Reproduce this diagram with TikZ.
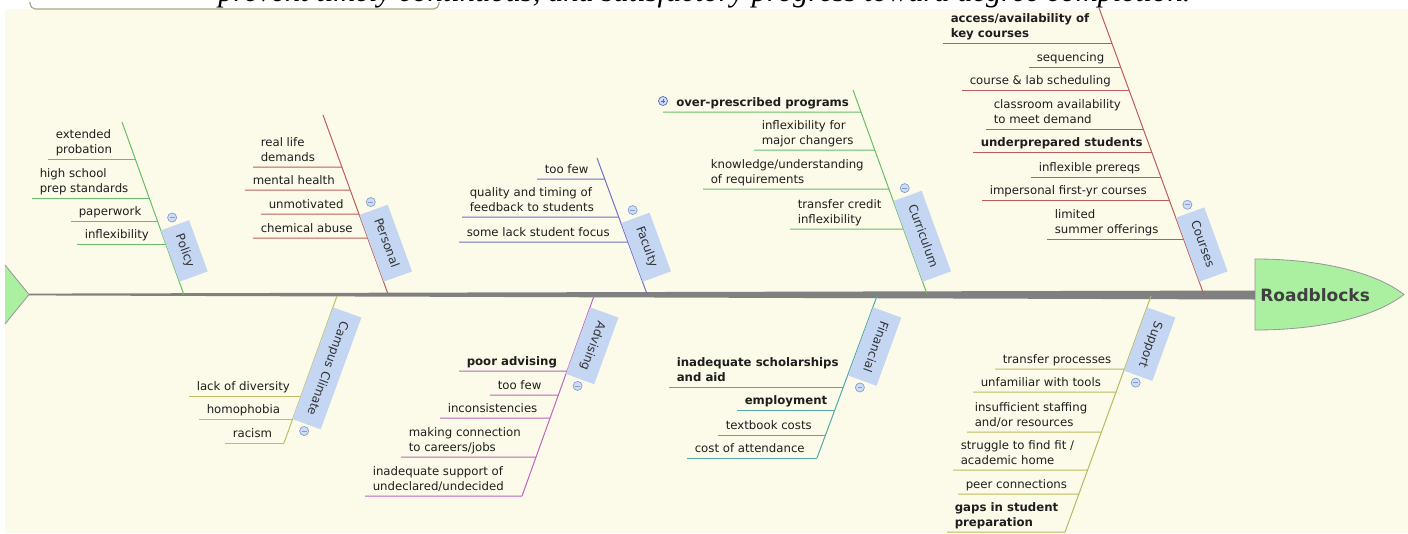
\documentclass[tikz,border=0pt]{standalone}
\usepackage{fontspec}
\setmainfont{DejaVu Sans}
\newfontfamily\titlefont{Liberation Serif}
\usetikzlibrary{calc}
\definecolor{cream}{RGB}{252,251,233}
\definecolor{txtc}{RGB}{30,30,30}
\definecolor{cattxt}{RGB}{50,50,50}
\definecolor{catblue}{RGB}{196,214,242}
\definecolor{iconfill}{RGB}{206,220,244}
\definecolor{iconedge}{RGB}{130,155,210}
\definecolor{plusedge}{RGB}{80,110,180}
\definecolor{spinec}{RGB}{128,128,128}
\definecolor{headfill}{RGB}{170,240,160}
\definecolor{headedge}{RGB}{150,150,150}
\definecolor{headtxt}{RGB}{64,64,64}
\definecolor{boxedge}{RGB}{170,166,136}
\definecolor{polc}{RGB}{102,190,102}
\definecolor{curc}{RGB}{102,190,102}
\definecolor{perc}{RGB}{190,92,92}
\definecolor{crsc}{RGB}{190,92,92}
\definecolor{facc}{RGB}{112,112,200}
\definecolor{ccc}{RGB}{190,190,100}
\definecolor{supc}{RGB}{185,185,95}
\definecolor{advc}{RGB}{190,100,190}
\definecolor{finc}{RGB}{80,170,170}
\tikzset{
  bone/.style={line width=0.75pt},
  causetxt/.style={font=\fontsize{8.8}{11.25}\selectfont, text=txtc, inner sep=0pt, align=left, anchor=south west, text depth=0pt},
  causebold/.style={causetxt, font=\fontsize{8.8}{11.25}\selectfont\bfseries},
  catbox/.style={fill=catblue, text=cattxt, font=\fontsize{9}{10}\selectfont, inner xsep=7.5pt, inner ysep=6.75pt, text height=6.75pt, text depth=2.25pt},
  cattop/.style={catbox, rotate=-70, anchor=south east},
  catbot/.style={catbox, rotate=-110, anchor=south west},
  collapse/.style={circle, draw=iconedge, fill=iconfill, line width=0.5pt, minimum size=6.8pt, inner sep=0pt,
    path picture={\draw[iconedge, line width=0.6pt] ($(path picture bounding box.center)+(-1.8pt,0)$) -- ($(path picture bounding box.center)+(1.8pt,0)$);}},
  expand/.style={circle, draw=plusedge, fill=iconfill, line width=0.5pt, minimum size=6.8pt, inner sep=0pt,
    path picture={\draw[plusedge, line width=0.6pt] ($(path picture bounding box.center)+(-1.8pt,0)$) -- ($(path picture bounding box.center)+(1.8pt,0)$);
      \draw[plusedge, line width=0.6pt] ($(path picture bounding box.center)+(0,-1.8pt)$) -- ($(path picture bounding box.center)+(0,1.8pt)$);}},
  headtext/.style={font=\fontsize{12.75}{14}\selectfont\bfseries, text=headtxt, inner sep=0pt}
}
% #1 bone prefix, #2 y of line, #3 left x of line, #4 text style, #5 node name, #6 text
\newcommand\causeline[6]{%
  \coordinate (#5L) at (#3,#2);
  \coordinate (#5R) at (intersection of #1A--#1B and 0,#2--1408,#2);
  \draw[#1c, bone] (#5L) -- (#5R);
  \node[#4] (#5) at (#3+7.5,#2-5.5) {#6};
}
\begin{document}
\begin{tikzpicture}[x=0.75pt,y=-0.75pt]
\useasboundingbox (0,0) rectangle (1408,533);
\clip (0,0) rectangle (1408,533);
\fill[white] (0,0) rectangle (1408,533);
\node[anchor=base west, inner sep=0pt] (title) at (218,1.5)
  {\resizebox{729pt}{!}{\titlefont\itshape prevent timely continuous, and satisfactory progress toward degree completion.}};
\fill[cream] (5,8.5) rectangle (1408,533);
\draw[boxedge, line width=0.9pt, rounded corners=4pt] (30,2) -- (30,9) -- (439,9) -- (439,2);

% tail
\coordinate (tailTop) at (5,265);
\coordinate (tailTip) at (29,294.5);
\coordinate (tailBot) at (5,324);
\fill[headfill] (tailTop) -- (tailTip) -- (tailBot) -- cycle;
\draw[headedge, line width=0.6pt] (tailTop) -- (tailTip) -- (tailBot);

% head
\coordinate (headL) at (1255,295);
\filldraw[fill=headfill, draw=headedge, line width=0.6pt] (1255,259) .. controls (1320,259) and (1375,272) .. (1404,294.5) .. controls (1375,317) and (1320,330) .. (1255,330) -- cycle;
\node[headtext, anchor=west] (head) at (1260,295.5) {Roadblocks};

% spine
\fill[spinec] ($(tailTip)+(0,-0.9)$) -- ($(headL)+(0,-4.5)$) -- ($(headL)+(0,4.5)$) -- ($(tailTip)+(0,0.9)$) -- cycle;

% ---------- Policy ----------
\coordinate (polA) at (122,122);
\coordinate (polB) at (184,295);
\draw[polc, bone] (polA) -- (polB);
\causeline{pol}{159}{48}{causetxt}{pol1}{extended\\probation}
\causeline{pol}{198}{32}{causetxt}{pol2}{high school\\prep standards}
\causeline{pol}{221}{71}{causetxt}{pol3}{paperwork}
\causeline{pol}{244}{77}{causetxt}{pol4}{inflexibility}
\node[cattop] (polLbl) at (intersection of polA--polB and 0,282--1408,282) {Policy};
\node[collapse] (polIcon) at ($(polLbl.west)!-6pt!(polLbl.east)$) {};

% ---------- Personal ----------
\coordinate (perA) at (323,115);
\coordinate (perB) at (388,294);
\draw[perc, bone] (perA) -- (perB);
\causeline{per}{167}{253}{causetxt}{per1}{real life\\demands}
\causeline{per}{190}{245}{causetxt}{per2}{mental health}
\causeline{per}{214}{261}{causetxt}{per3}{unmotivated}
\causeline{per}{238}{253}{causetxt}{per4}{chemical abuse}
\node[cattop] (perLbl) at (intersection of perA--perB and 0,282--1408,282) {Personal};
\node[collapse] (perIcon) at ($(perLbl.west)!-6pt!(perLbl.east)$) {};

% ---------- Faculty ----------
\coordinate (facA) at (597,158);
\coordinate (facB) at (647,294);
\draw[facc, bone] (facA) -- (facB);
\causeline{fac}{179}{537}{causetxt}{fac1}{too few}
\causeline{fac}{217}{462}{causetxt}{fac2}{quality and timing of\\feedback to students}
\causeline{fac}{242}{459}{causetxt}{fac3}{some lack student focus}
\node[cattop] (facLbl) at (intersection of facA--facB and 0,282--1408,282) {Faculty};
\node[collapse] (facIcon) at ($(facLbl.west)!-6pt!(facLbl.east)$) {};

% ---------- Curriculum ----------
\coordinate (curA) at (853,90);
\coordinate (curB) at (927,294);
\draw[curc, bone] (curA) -- (curB);
\coordinate (cur1L) at (663,112);
\coordinate (cur1R) at (intersection of curA--curB and 0,112--1408,112);
\draw[curc, bone] (cur1L) -- (cur1R);
\node[expand] (cur1Icon) at (663,101) {};
\node[causebold] (cur1) at (676,106.5) {over-prescribed programs};
\causeline{cur}{150}{754}{causetxt}{cur2}{inflexibility for\\major changers}
\causeline{cur}{189}{703}{causetxt}{cur3}{knowledge/understanding\\of requirements}
\causeline{cur}{229}{790}{causetxt}{cur4}{transfer credit\\inflexibility}
\node[cattop] (curLbl) at (intersection of curA--curB and 0,282--1408,282) {Curriculum};
\node[collapse] (curIcon) at ($(curLbl.west)!-6pt!(curLbl.east)$) {};

% ---------- Courses ----------
\coordinate (crsA) at (1099,8);
\coordinate (crsB) at (1204,295);
\draw[crsc, bone] (crsA) -- (crsB);
\causeline{crs}{43}{943}{causebold}{crs1}{access/availability of\\key courses}
\causeline{crs}{67}{1029}{causetxt}{crs2}{sequencing}
\causeline{crs}{90}{962}{causetxt}{crs3}{course \& lab scheduling}
\causeline{crs}{129}{986}{causetxt}{crs4}{classroom availability\\to meet demand}
\causeline{crs}{152}{973}{causebold}{crs5}{underprepared students}
\causeline{crs}{177}{1031}{causetxt}{crs6}{inflexible prereqs}
\causeline{crs}{200}{982}{causetxt}{crs7}{impersonal first-yr courses}
\causeline{crs}{239}{1047}{causetxt}{crs8}{limited\\summer offerings}
\node[cattop] (crsLbl) at (intersection of crsA--crsB and 0,282--1408,282) {Courses};
\node[collapse] (crsIcon) at ($(crsLbl.west)!-6pt!(crsLbl.east)$) {};

% ---------- Campus Climate ----------
\coordinate (ccA) at (337,296);
\coordinate (ccB) at (284,443);
\draw[ccc, bone] (ccA) -- (ccB);
\causeline{cc}{396}{189}{causetxt}{cc1}{lack of diversity}
\causeline{cc}{419}{199}{causetxt}{cc2}{homophobia}
\causeline{cc}{443}{225}{causetxt}{cc3}{racism}
\node[catbot] (ccLbl) at (intersection of ccA--ccB and 0,307--1408,307) {Campus Climate};
\node[collapse] (ccIcon) at ($(ccLbl.east)!-5.25pt!(ccLbl.west)$) {};

% ---------- Advising ----------
\coordinate (advA) at (594,296);
\coordinate (advB) at (522,496);
\draw[advc, bone] (advA) -- (advB);
\causeline{adv}{371}{459}{causebold}{adv1}{poor advising}
\causeline{adv}{395}{490}{causetxt}{adv2}{too few}
\causeline{adv}{418}{440}{causetxt}{adv3}{inconsistencies}
\causeline{adv}{457}{401}{causetxt}{adv4}{making connection\\to careers/jobs}
\causeline{adv}{496}{365}{causetxt}{adv5}{inadequate support of\\undeclared/undecided}
\node[catbot] (advLbl) at (intersection of advA--advB and 0,307--1408,307) {Advising};
\node[collapse] (advIcon) at ($(advLbl.east)!-5.25pt!(advLbl.west)$) {};

% ---------- Financial ----------
\coordinate (finA) at (877,296);
\coordinate (finB) at (817,458);
\draw[finc, bone] (finA) -- (finB);
\causeline{fin}{387}{669}{causebold}{fin1}{inadequate scholarships\\and aid}
\causeline{fin}{410}{737}{causebold}{fin2}{employment}
\causeline{fin}{435}{718}{causetxt}{fin3}{textbook costs}
\causeline{fin}{458}{687}{causetxt}{fin4}{cost of attendance}
\node[catbot] (finLbl) at (intersection of finA--finB and 0,307--1408,307) {Financial};
\node[collapse] (finIcon) at ($(finLbl.east)!-5.25pt!(finLbl.west)$) {};

% ---------- Support ----------
\coordinate (supA) at (1151,296);
\coordinate (supB) at (1065,532);
\draw[supc, bone] (supA) -- (supB);
\causeline{sup}{369}{995}{causetxt}{sup1}{transfer processes}
\causeline{sup}{392}{973}{causetxt}{sup2}{unfamiliar with tools}
\causeline{sup}{432}{967}{causetxt}{sup3}{insufficient staffing\\and/or resources}
\causeline{sup}{470}{953}{causetxt}{sup4}{struggle to find fit /\\academic home}
\causeline{sup}{494}{958}{causetxt}{sup5}{peer connections}
\causeline{sup}{532}{947}{causebold}{sup6}{gaps in student\\preparation}
\node[catbot] (supLbl) at (intersection of supA--supB and 0,307--1408,307) {Support};
\node[collapse] (supIcon) at ($(supLbl.east)!-5.25pt!(supLbl.west)$) {};
\end{tikzpicture}
\end{document}
